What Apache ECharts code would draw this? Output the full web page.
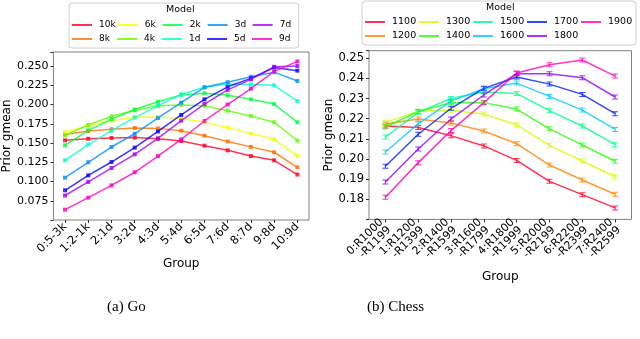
<!DOCTYPE html>
<html>
<head>
<meta charset="utf-8">
<script src="https://cdn.jsdelivr.net/npm/echarts@6/dist/echarts.min.js"></script>
<style>
  html, body { margin: 0; padding: 0; background: #fff; }
  #chart { width: 640px; height: 339px; }
</style>
</head>
<body>
<div id="chart"></div>
<script>
// Go: groups and models
var goGroups = ["0:5-3k", "1:2-1k", "2:1d", "3:2d", "4:3d", "5:4d", "6:5d", "7:6d", "8:7d", "9:8d", "10:9d"];
var goModels = ["10k", "8k", "6k", "4k", "2k", "1d", "3d", "5d", "7d", "9d"];
var go10k = [0.1535, 0.1555, 0.1565, 0.157, 0.1555, 0.1525, 0.1465, 0.1405, 0.133, 0.1275, 0.109];
var go8k = [0.161, 0.1655, 0.168, 0.1695, 0.169, 0.166, 0.1595, 0.152, 0.145, 0.138, 0.1185];
var go6k = [0.164, 0.1725, 0.179, 0.1834, 0.1838, 0.182, 0.177, 0.170, 0.1625, 0.155, 0.133];
var go4k = [0.160, 0.1735, 0.1847, 0.1925, 0.1985, 0.1995, 0.1985, 0.192, 0.185, 0.177, 0.153];
var go2k = [0.147, 0.1665, 0.181, 0.1935, 0.2035, 0.2125, 0.2145, 0.212, 0.2067, 0.2006, 0.177];
var go1d = [0.1275, 0.148, 0.166, 0.183, 0.1985, 0.213, 0.2225, 0.2265, 0.226, 0.225, 0.2045];
var go3d = [0.105, 0.125, 0.1448, 0.162, 0.1825, 0.2024, 0.2223, 0.229, 0.236, 0.242, 0.2305];
var go5d = [0.0886, 0.108, 0.1253, 0.144, 0.165, 0.1864, 0.2067, 0.223, 0.234, 0.248, 0.244];
var go7d = [0.0818, 0.0994, 0.1175, 0.1353, 0.156, 0.179, 0.2006, 0.219, 0.2327, 0.249, 0.250];
var go9d = [0.0634, 0.079, 0.095, 0.112, 0.133, 0.1548, 0.1786, 0.200, 0.2206, 0.243, 0.256];
var goValues = [go10k, go8k, go6k, go4k, go2k, go1d, go3d, go5d, go7d, go9d];
var goColors = ["#ff0029", "#ff7000", "#f5ff00", "#5cff00", "#00ff3c", "#00ffd5", "#008fff", "#0b00ff", "#a500ff", "#ff00bf"];

// Chess: groups and models
var chessGroups = ["0:R1000\n-R1199", "1:R1200\n-R1399", "2:R1400\n-R1599", "3:R1600\n-R1799",
  "4:R1800\n-R1999", "5:R2000\n-R2199", "6:R2200\n-R2399", "7:R2400\n-R2599"];
var chessModels = ["1100", "1200", "1300", "1400", "1500", "1600", "1700", "1800", "1900"];
var ch1100 = [0.2164, 0.2156, 0.2116, 0.2065, 0.1993, 0.1889, 0.1823, 0.1757];
var ch1200 = [0.2174, 0.2199, 0.2179, 0.2139, 0.2076, 0.197, 0.1896, 0.1825];
var ch1300 = [0.2182, 0.2238, 0.2242, 0.2223, 0.217, 0.2068, 0.199, 0.1912];
var ch1400 = [0.2159, 0.2236, 0.228, 0.228, 0.2248, 0.215, 0.207, 0.1989];
var ch1500 = [0.2109, 0.2232, 0.2301, 0.2333, 0.2326, 0.224, 0.2164, 0.2071];
var ch1600 = [0.2035, 0.2175, 0.2288, 0.2349, 0.2377, 0.2311, 0.2243, 0.2147];
var ch1700 = [0.1964, 0.2123, 0.2252, 0.2351, 0.2407, 0.2372, 0.2321, 0.2225];
var ch1800 = [0.1886, 0.205, 0.2199, 0.2318, 0.2424, 0.2424, 0.2404, 0.2308];
var ch1900 = [0.181, 0.1982, 0.2141, 0.228, 0.2427, 0.2468, 0.2492, 0.2412];
var chessValues = [ch1100, ch1200, ch1300, ch1400, ch1500, ch1600, ch1700, ch1800, ch1900];
var chessColors = ["#ff0029", "#ff8300", "#cfff00", "#22ff00", "#00ff89", "#00c9ff", "#001cff", "#9100ff", "#ff00bf"];

var goTicks = [0.075, 0.100, 0.125, 0.150, 0.175, 0.200, 0.225, 0.250];
var chessTicks = [0.18, 0.19, 0.20, 0.21, 0.22, 0.23, 0.24, 0.25];

var font = "DejaVu Sans";
var capBar = "path://M0,0H10V2H6V8H10V10H0V8H4V2H0Z";

// matplotlib legend fills columns first (2 rows)
function colOrder(names, rows) {
  var out = [];
  var cols = Math.ceil(names.length / rows);
  for (var r = 0; r < rows; r++) {
    for (var c = 0; c < cols; c++) {
      var i = c * rows + r;
      if (i < names.length) out.push(names[i]);
    }
  }
  return out;
}

function isTick(v, ticks, d) {
  return ticks.some(function (t) { return Math.abs(t - v) < 1e-7; }) ? v.toFixed(d) : "";
}

var chart = echarts.init(document.getElementById("chart"));
var series = [];
goModels.forEach(function (name, i) {
  series.push({
    name: name, type: "line", xAxisIndex: 0, yAxisIndex: 0,
    data: goValues[i],
    symbol: "rect", symbolSize: 4,
    lineStyle: { color: goColors[i], width: 1.5, opacity: 0.8 },
    itemStyle: { color: goColors[i], opacity: 0.8 },
    emphasis: { disabled: true }
  });
});
chessModels.forEach(function (name, i) {
  series.push({
    name: name, type: "line", xAxisIndex: 1, yAxisIndex: 1,
    data: chessValues[i],
    symbol: capBar, symbolSize: [6, 5],
    lineStyle: { color: chessColors[i], width: 1.5, opacity: 0.8 },
    itemStyle: { color: chessColors[i], opacity: 0.8 },
    emphasis: { disabled: true }
  });
});

var axisText = { color: "#000", fontFamily: font };

var option = {
  animation: false,
  backgroundColor: "#fff",
  grid: [
    { left: 49, top: 52, width: 260, height: 168, show: true, borderColor: "#808080", borderWidth: 1 },
    { left: 369, top: 50.7, width: 262.5, height: 168.7, show: true, borderColor: "#808080", borderWidth: 1 }
  ],
  legend: [
    {
      data: colOrder(goModels, 2), left: 69, top: 3, width: 232,
      padding: [16, 3, 3, 3], itemGap: 2, itemWidth: 20, itemHeight: 2, icon: "rect",
      borderColor: "#d0d0d0", borderWidth: 1, borderRadius: 3, selectedMode: false,
      textStyle: { fontFamily: font, fontSize: 9, color: "#000", width: 16, lineHeight: 12, padding: [0, 0, 0, 2] }
    },
    {
      data: colOrder(chessModels, 2), left: 362, top: 1, width: 270,
      padding: [15, 3, 3, 3], itemGap: 2, itemWidth: 20, itemHeight: 2, icon: "rect",
      borderColor: "#d0d0d0", borderWidth: 1, borderRadius: 3, selectedMode: false,
      textStyle: { fontFamily: font, fontSize: 9.5, color: "#000", width: 25, lineHeight: 12, padding: [0, 0, 0, 2] }
    }
  ],
  xAxis: [
    {
      type: "category", gridIndex: 0, data: goGroups, boundaryGap: true,
      name: "Group", nameLocation: "middle", nameGap: 34,
      nameTextStyle: { fontFamily: font, fontSize: 12, color: "#000" },
      axisLine: { show: false },
      axisTick: { show: true, alignWithLabel: true, length: 3, lineStyle: { color: "#333" } },
      axisLabel: Object.assign({ interval: 0, rotate: 45, fontSize: 11.5, margin: 5 }, axisText),
      splitLine: { show: false }
    },
    {
      type: "category", gridIndex: 1, data: chessGroups, boundaryGap: true,
      name: "Group", nameLocation: "middle", nameGap: 51,
      nameTextStyle: { fontFamily: font, fontSize: 12, color: "#000" },
      axisLine: { show: false },
      axisTick: { show: true, alignWithLabel: true, length: 3, lineStyle: { color: "#333" } },
      axisLabel: Object.assign({ interval: 0, rotate: 45, fontSize: 11, margin: 5, lineHeight: 11 }, axisText),
      splitLine: { show: false }
    }
  ],
  yAxis: [
    {
      type: "value", gridIndex: 0, min: 0.05, max: 0.2682, interval: 0.025,
      name: "Prior gmean", nameLocation: "middle", nameGap: 36,
      nameTextStyle: { fontFamily: font, fontSize: 12, color: "#000" },
      axisLine: { show: false },
      axisTick: { show: true, length: 3, lineStyle: { color: "#333" } },
      axisLabel: Object.assign({ fontSize: 11, margin: 5, formatter: function (v) { return isTick(v, goTicks, 3); } }, axisText),
      splitLine: { show: false }
    },
    {
      type: "value", gridIndex: 1, min: 0.17, max: 0.2538, interval: 0.01,
      name: "Prior gmean", nameLocation: "middle", nameGap: 32,
      nameTextStyle: { fontFamily: font, fontSize: 12, color: "#000" },
      axisLine: { show: false },
      axisTick: { show: true, length: 3, lineStyle: { color: "#333" } },
      axisLabel: Object.assign({ fontSize: 11.5, margin: 5, formatter: function (v) { return isTick(v, chessTicks, 2); } }, axisText),
      splitLine: { show: false }
    }
  ],
  graphic: [
    { type: "text", left: 166, top: 5, style: { text: "Model", font: "9.5px DejaVu Sans", fill: "#000" } },
    { type: "text", left: 486, top: 3, style: { text: "Model", font: "9.5px DejaVu Sans", fill: "#000" } },
    { type: "text", left: 107, top: 300, style: { text: "(a) Go", font: "15px 'Liberation Serif'", fill: "#000" } },
    { type: "text", left: 367, top: 300, style: { text: "(b) Chess", font: "15px 'Liberation Serif'", fill: "#000" } }
  ],
  series: series
};
chart.setOption(option);
</script>
</body>
</html>
